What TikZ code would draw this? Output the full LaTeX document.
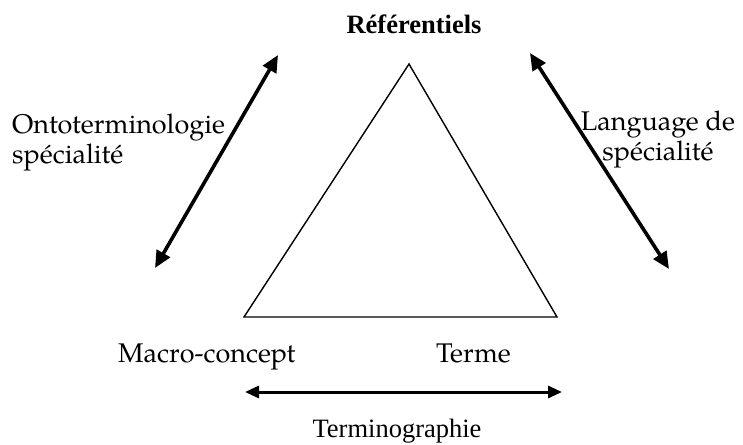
\documentclass[tikz,border=0pt]{standalone}
\usepackage{fontspec}
\setmainfont{Liberation Serif}
\newfontfamily\palfont{TeX Gyre Pagella}
\usetikzlibrary{arrows.meta}
\tikzset{
  bigarrow/.style={line width=3.6pt, {Triangle[length=17pt,width=15pt]}-{Triangle[length=17pt,width=15pt]}},
  botarrow/.style={line width=3pt, {Triangle[length=14pt,width=12pt]}-{Triangle[length=14pt,width=12pt]}},
  pal/.style={font=\palfont\fontsize{27}{32}\selectfont, inner sep=0pt},
  tms/.style={font=\fontsize{26.5}{32}\selectfont, inner sep=0pt},
}
\begin{document}
\begin{tikzpicture}[x=1pt,y=-1pt]
\useasboundingbox (0,0) rectangle (743,444);
% triangle
\coordinate (apex) at (409,64);
\coordinate (bl) at (244,317);
\coordinate (br) at (557,317);
\draw[line width=1.4pt, line join=miter] (apex) -- (bl) -- (br) -- cycle;
% arrows
\coordinate (la) at (278,55);
\coordinate (lb) at (155,268);
\draw[bigarrow] (lb) -- (la);
\coordinate (ra) at (530,53);
\coordinate (rb) at (669,269);
\draw[bigarrow] (ra) -- (rb);
\coordinate (ba) at (245,392);
\coordinate (bb) at (562,392);
\draw[botarrow] (ba) -- (bb);
% labels
\node[tms, font=\bfseries\fontsize{26.5}{32}\selectfont, anchor=base] (ref) at (414,34) {Référentiels};
\node[pal, anchor=base west] (onto1) at (12,133) {Ontoterminologie};
\node[pal, anchor=base west] (onto2) at (12,163) {spécialité};
\node[pal, anchor=base] (lang1) at (658,130) {Language de};
\node[pal, anchor=base] (lang2) at (658,160) {spécialité};
\node[pal, anchor=base west] (macro) at (118,362) {Macro-concept};
\node[pal, anchor=base west] (terme) at (436,362) {Terme};
\node[tms, anchor=base] (termino) at (397,437) {Terminographie};
\end{tikzpicture}
\end{document}
